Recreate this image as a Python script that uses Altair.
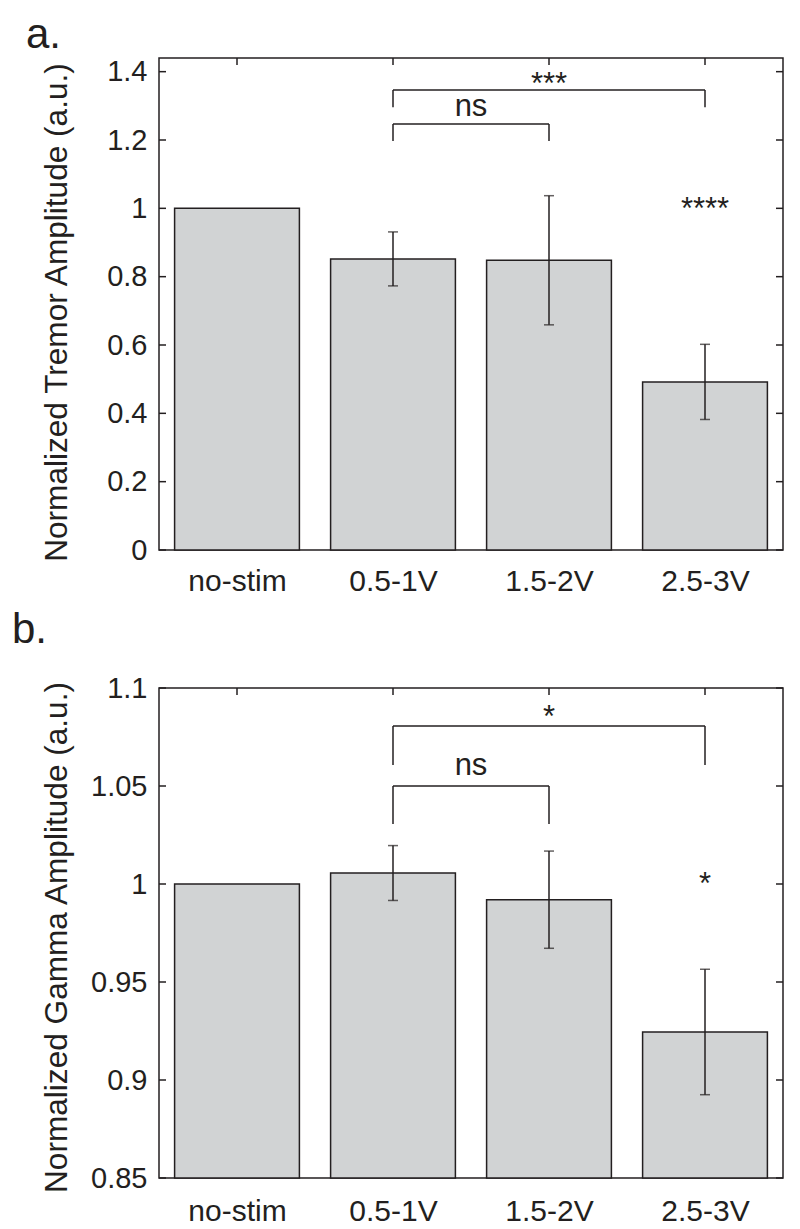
import json
import altair as alt
import pandas as pd

# ---------------- data ----------------
categories = ["no-stim", "0.5-1V", "1.5-2V", "2.5-3V"]

tremor_mean = [1.0, 0.852, 0.848, 0.492]
tremor_err = [0.0, 0.079, 0.189, 0.110]
tremor_ticks = [0, 0.2, 0.4, 0.6, 0.8, 1.0, 1.2, 1.4]
tremor_domain = [0, 1.44]
tremor_title = "Normalized Tremor Amplitude (a.u.)"

tremor_br_from = ["0.5-1V", "0.5-1V"]
tremor_br_to = ["2.5-3V", "1.5-2V"]
tremor_br_top = [1.346, 1.247]
tremor_br_end = [1.296, 1.197]
tremor_br_label = ["***", "ns"]
tremor_br_label_y = [1.334, 1.270]
tremor_star_cat = ["2.5-3V"]
tremor_star_label = ["****"]
tremor_star_y = [0.969]

gamma_mean = [1.0, 1.0056, 0.992, 0.9245]
gamma_err = [0.0, 0.014, 0.0248, 0.032]
gamma_ticks = [0.85, 0.9, 0.95, 1.0, 1.05, 1.1]
gamma_domain = [0.85, 1.1]
gamma_title = "Normalized Gamma Amplitude (a.u.)"

gamma_br_from = ["0.5-1V", "0.5-1V"]
gamma_br_to = ["2.5-3V", "1.5-2V"]
gamma_br_top = [1.0806, 1.05]
gamma_br_end = [1.0607, 1.0306]
gamma_br_label = ["*", "ns"]
gamma_br_label_y = [1.0801, 1.0556]
gamma_star_cat = ["2.5-3V"]
gamma_star_label = ["*"]
gamma_star_y = [0.9949]

# ---------------- style ----------------
W = 624
TICK = 7
INK = "#231f20"
FILL = "#d1d3d4"
FONT = "Liberation Sans"


def pos_of(c):
    return categories.index(c) + 1


def panel(means, errs, ticks, domain, ytitle,
          br_from, br_to, br_top, br_end, br_label, br_label_y,
          star_cat, star_label, star_y,
          letter, letter_dx, letter_offset, height, xlabel_pad, title_shift):
    xscale = alt.Scale(domain=[0.5, 4.5], nice=False, zero=False)
    yscale = alt.Scale(domain=domain, nice=False, zero=False)

    label_expr = json.dumps(categories) + "[datum.value - 1]"
    xaxis = alt.Axis(values=[1, 2, 3, 4], labelExpr=label_expr, title=None,
                     tickSize=0, domain=False, grid=False,
                     labelPadding=xlabel_pad, labelFontSize=30, labelFont=FONT,
                     labelColor=INK)
    yaxis = alt.Axis(values=ticks, format="~g", title=ytitle,
                     tickSize=0, domain=False, grid=False,
                     labelPadding=12, labelFontSize=29, labelFont=FONT,
                     labelColor=INK, titleFont=FONT, titleFontSize=31.6,
                     titleFontWeight="normal", titleColor=INK,
                     titlePadding=16, minExtent=70, maxExtent=70,
                     titleY=height / 2 + title_shift)

    def X(field):
        return alt.X(field, type="quantitative", scale=xscale, axis=xaxis)

    def Y(field):
        return alt.Y(field, type="quantitative", scale=yscale, axis=yaxis)

    bars_df = pd.DataFrame({"cat": categories, "mean": means, "err": errs})
    bars_df["pos"] = [pos_of(c) for c in categories]

    bars = (
        alt.Chart(bars_df)
        .transform_calculate(x1="datum.pos - 0.4", x2="datum.pos + 0.4")
        .mark_bar(fill=FILL, stroke=INK, strokeWidth=1.5)
        .encode(x=X("x1"), x2="x2:Q", y=Y("mean"), y2=alt.datum(domain[0]))
    )

    err_df = bars_df[bars_df["err"] > 0]
    eb = alt.Chart(err_df).transform_calculate(
        lo="datum.mean - datum.err", hi="datum.mean + datum.err")
    stems = eb.mark_rule(color=INK, strokeWidth=1.5).encode(
        x=X("pos"), y=Y("lo"), y2="hi:Q")
    cap_lo = eb.mark_tick(color=INK, thickness=1.5, size=10,
                          orient="horizontal").encode(x=X("pos"), y=Y("lo"))
    cap_hi = eb.mark_tick(color=INK, thickness=1.5, size=10,
                          orient="horizontal").encode(x=X("pos"), y=Y("hi"))

    tick_df = pd.DataFrame({"v": ticks})
    left_ticks = alt.Chart(tick_df).mark_rule(color=INK, strokeWidth=1.5).encode(
        y=Y("v"), x=alt.value(0), x2=alt.value(TICK))
    right_ticks = alt.Chart(tick_df).mark_rule(color=INK, strokeWidth=1.5).encode(
        y=Y("v"), x=alt.value(W - TICK), x2=alt.value(W))
    top_df = pd.DataFrame({"pos": [pos_of(c) for c in categories]})
    top_ticks = alt.Chart(top_df).mark_rule(color=INK, strokeWidth=1.5).encode(
        x=X("pos"), y=alt.value(0), y2=alt.value(TICK))

    br_df = pd.DataFrame({"top": br_top, "end": br_end,
                          "label": br_label, "ly": br_label_y})
    br_df["p1"] = [pos_of(c) for c in br_from]
    br_df["p2"] = [pos_of(c) for c in br_to]
    br_df["mid"] = (br_df["p1"] + br_df["p2"]) / 2
    horiz = alt.Chart(br_df).mark_rule(color=INK, strokeWidth=1.5).encode(
        x=X("p1"), x2="p2:Q", y=Y("top"))
    legs_df = pd.concat([
        pd.DataFrame({"p": br_df["p1"], "top": br_df["top"], "end": br_df["end"]}),
        pd.DataFrame({"p": br_df["p2"], "top": br_df["top"], "end": br_df["end"]}),
    ], ignore_index=True)
    legs = alt.Chart(legs_df).mark_rule(color=INK, strokeWidth=1.5).encode(
        x=X("p"), y=Y("end"), y2="top:Q")
    labels = alt.Chart(br_df).mark_text(
        font=FONT, fontSize=31, color=INK, baseline="alphabetic",
        align="center").encode(x=X("mid"), y=Y("ly"), text="label:N")
    star_df = pd.DataFrame({"pos": [pos_of(c) for c in star_cat],
                            "label": star_label, "y": star_y})
    star = alt.Chart(star_df).mark_text(
        font=FONT, fontSize=31, color=INK, baseline="alphabetic",
        align="center").encode(x=X("pos"), y=Y("y"), text="label:N")

    return alt.layer(
        bars, stems, cap_lo, cap_hi, left_ticks, right_ticks, top_ticks,
        horiz, legs, labels, star,
    ).properties(
        width=W, height=height,
        title=alt.TitleParams(letter, anchor="start", frame="group",
                              dx=letter_dx, offset=letter_offset,
                              fontSize=42, fontWeight="normal", font=FONT,
                              color=INK, baseline="alphabetic"),
    )


panel_a = panel(tremor_mean, tremor_err, tremor_ticks, tremor_domain, tremor_title,
                tremor_br_from, tremor_br_to, tremor_br_top, tremor_br_end,
                tremor_br_label, tremor_br_label_y,
                tremor_star_cat, tremor_star_label, tremor_star_y,
                "a.", -133, -33, 492, 16, 8)

panel_b = panel(gamma_mean, gamma_err, gamma_ticks, gamma_domain, gamma_title,
                gamma_br_from, gamma_br_to, gamma_br_top, gamma_br_end,
                gamma_br_label, gamma_br_label_y,
                gamma_star_cat, gamma_star_label, gamma_star_y,
                "b.", -147, -11, 490, 18, 4)

chart = (
    alt.vconcat(panel_a, panel_b, spacing=138, bounds="flush")
    .configure_view(stroke=INK, strokeWidth=1.5)
    .properties(padding={"left": 3, "top": 5, "right": 5, "bottom": 0},
                background="white")
)

chart.save("out.html", embed_options={"renderer": "svg", "actions": False})
